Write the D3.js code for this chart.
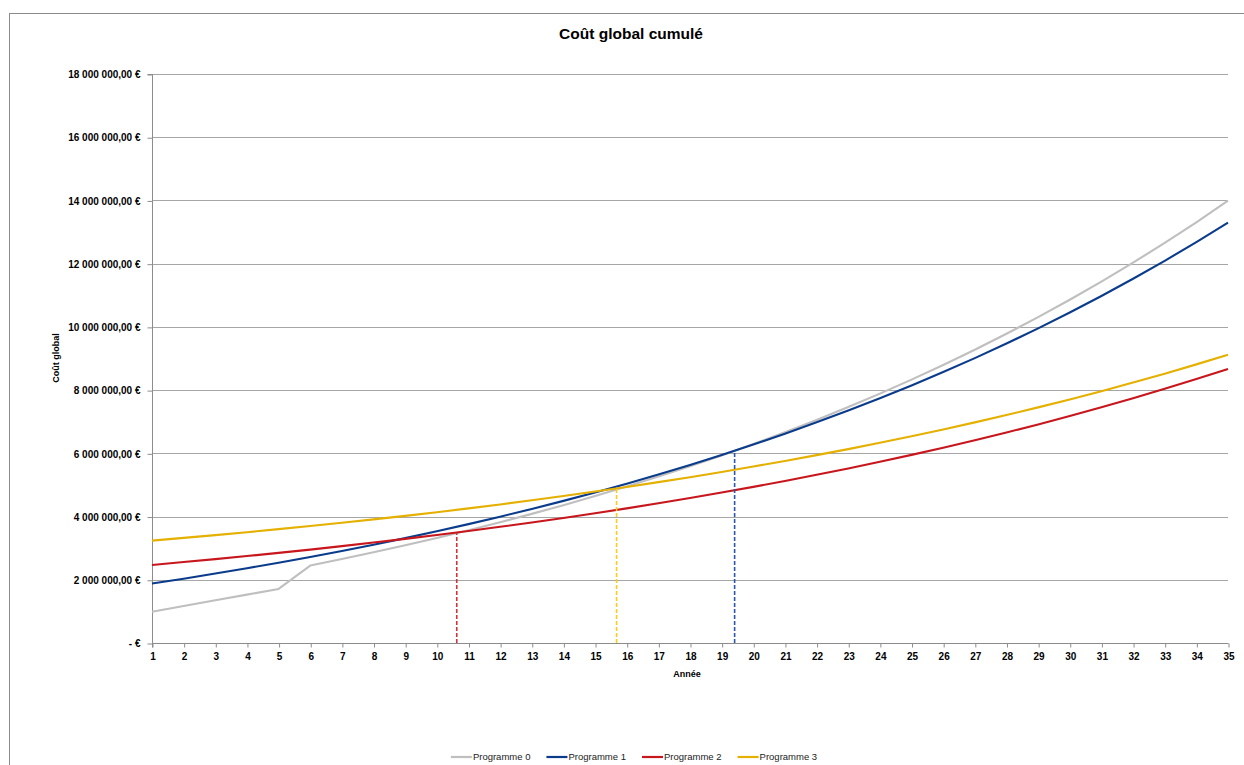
<!DOCTYPE html>
<html>
<head>
<meta charset="utf-8">
<script src="https://cdn.jsdelivr.net/npm/d3@7"></script>
<style>
  html, body { margin: 0; padding: 0; background: #fff; }
  svg { display: block; }
</style>
</head>
<body>
<svg id="chart" width="1244" height="765"></svg>
<script>
// ---------------- DATA ----------------
const years = d3.range(1, 36); // 1..35 (category labels)

const seriesNames = ["Programme 0", "Programme 1", "Programme 2", "Programme 3"];

const programme0 = [990000,1170000,1350000,1530000,1710000,2450000,2655000,2868000,3091000,3323000,3566000,3820000,4085000,4361000,4649000,4950000,5265000,5593000,5935000,6293000,6666000,7056000,7463000,7888000,8331000,8794000,9277000,9782000,10309000,10858000,11432000,12031000,12657000,13310000,13992000];
const programme1 = [1880000,2034000,2196000,2364000,2539000,2722000,2912000,3111000,3318000,3535000,3760000,3995000,4241000,4496000,4763000,5041000,5331000,5634000,5949000,6279000,6622000,6980000,7353000,7742000,8148000,8571000,9013000,9473000,9954000,10455000,10977000,11522000,12090000,12682000,13300000];
const programme2 = [2470000,2560000,2653000,2750000,2851000,2955000,3064000,3177000,3295000,3417000,3544000,3676000,3814000,3956000,4105000,4259000,4419000,4586000,4759000,4939000,5126000,5321000,5523000,5733000,5951000,6179000,6415000,6660000,6915000,7180000,7456000,7742000,8040000,8349000,8671000];
const programme3 = [3240000,3325000,3413000,3505000,3601000,3700000,3803000,3911000,4022000,4138000,4258000,4384000,4514000,4649000,4790000,4936000,5088000,5246000,5410000,5581000,5758000,5943000,6134000,6334000,6541000,6756000,6980000,7212000,7454000,7706000,7967000,8238000,8521000,8814000,9119000];

// break-even markers (dashed verticals): year and value where curves meet Programme 0
const breakEvenSeries = [2, 3, 1];
const breakEvenYears  = [10.63, 15.68, 19.41];
const breakEvenValues = [3480000, 4870000, 6090000];

const yTickValues = [0,2000000,4000000,6000000,8000000,10000000,12000000,14000000,16000000,18000000];
const yTickLabels = ["-  €","2 000 000,00 €","4 000 000,00 €","6 000 000,00 €","8 000 000,00 €","10 000 000,00 €","12 000 000,00 €","14 000 000,00 €","16 000 000,00 €","18 000 000,00 €"];

const titleText = "Coût global cumulé";
const xTitle = "Année";
const yTitle = "Coût global";

// ---------------- STYLE ----------------
const colors = ["#BFBFBF", "#0B3C8C", "#C8161D", "#E5B000"];
const dashColors = ["#BFBFBF", "#2B58A6", "#D0343A", "#FFCC1A"];
const fontFamily = "'Liberation Sans', Arial, sans-serif";

const svg = d3.select("#chart");
const plot = { left: 152, right: 1228, top: 74, bottom: 643 };

// frame
svg.append("rect")
  .attr("x", 9.5).attr("y", 13.5)
  .attr("width", 1300).attr("height", 900)
  .attr("fill", "#fff").attr("stroke", "#8C8C8C").attr("stroke-width", 1);

const x = d3.scaleLinear().domain([1, 35]).range([plot.left, plot.right]);
const y = d3.scaleLinear().domain([0, 18000000]).range([plot.bottom, plot.top]);

// gridlines
svg.append("g")
  .selectAll("line")
  .data(yTickValues.filter(v => v > 0))
  .join("line")
  .attr("x1", plot.left).attr("x2", plot.right)
  .attr("y1", d => Math.round(y(d)) + 0.5).attr("y2", d => Math.round(y(d)) + 0.5)
  .attr("stroke", "#A6A6A6").attr("stroke-width", 1);

// y axis
const yAxis = d3.axisLeft(y)
  .tickValues(yTickValues)
  .tickFormat((d, i) => yTickLabels[i])
  .tickSize(5).tickPadding(7);
const gy = svg.append("g").attr("transform", `translate(${plot.left + 0.5},0.5)`).call(yAxis);
gy.select(".domain").attr("stroke", "#8C8C8C").attr("d", `M-5,${plot.top}H0V${plot.bottom + 4}`);
gy.selectAll(".tick line").attr("stroke", "#8C8C8C");
gy.selectAll(".tick text")
  .attr("font-family", fontFamily).attr("font-size", "10px").attr("font-weight", "bold").attr("fill", "#000");

// x axis
const xAxis = d3.axisBottom(x).tickValues(years).tickFormat(d3.format("d")).tickSize(4).tickPadding(5);
const gx = svg.append("g").attr("transform", `translate(0.5,${plot.bottom + 0.5})`).call(xAxis);
gx.select(".domain").attr("stroke", "#8C8C8C").attr("d", `M${plot.left},0H${plot.right}`);
gx.selectAll(".tick line").attr("stroke", "#8C8C8C");
gx.selectAll(".tick text")
  .attr("font-family", fontFamily).attr("font-size", "10px").attr("font-weight", "bold").attr("fill", "#000");

// axis titles
svg.append("text")
  .attr("x", (plot.left + plot.right) / 2 - 3).attr("y", 677)
  .attr("text-anchor", "middle")
  .attr("font-family", fontFamily).attr("font-size", "9px").attr("font-weight", "bold")
  .text(xTitle);

svg.append("text")
  .attr("transform", `translate(59,358) rotate(-90)`)
  .attr("text-anchor", "middle")
  .attr("font-family", fontFamily).attr("font-size", "9px").attr("font-weight", "bold")
  .text(yTitle);

// title
svg.append("text")
  .attr("x", 631).attr("y", 39)
  .attr("text-anchor", "middle")
  .attr("font-family", fontFamily).attr("font-size", "15.5px").attr("font-weight", "bold")
  .text(titleText);

// series lines
const allSeries = [programme0, programme1, programme2, programme3];
const line = d3.line().x((d, i) => x(years[i])).y(d => y(d));

svg.append("g")
  .selectAll("path")
  .data(allSeries)
  .join("path")
  .attr("d", d => line(d))
  .attr("fill", "none")
  .attr("stroke", (d, i) => colors[i])
  .attr("stroke-width", 2.1)
  .attr("stroke-linejoin", "round");

// break-even dashed verticals
svg.append("g")
  .selectAll("line")
  .data(breakEvenYears)
  .join("line")
  .attr("x1", d => x(d)).attr("x2", d => x(d))
  .attr("y1", y(0)).attr("y2", (d, i) => y(breakEvenValues[i]))
  .attr("stroke", (d, i) => dashColors[breakEvenSeries[i]])
  .attr("stroke-width", 1.6)
  .attr("stroke-dasharray", "4,2");

// legend
const legend = svg.append("g");
const items = legend.selectAll("g").data(seriesNames).join("g");
items.append("line")
  .attr("x1", 0).attr("x2", 21).attr("y1", 0).attr("y2", 0)
  .attr("stroke", (d, i) => colors[i]).attr("stroke-width", 2.2);
items.append("text")
  .attr("x", 22).attr("y", 3.3)
  .attr("font-family", fontFamily).attr("font-size", "9.5px").attr("fill", "#222")
  .text(d => d);
let offs = [], cur = 0;
items.each(function(d, i) {
  const tw = this.querySelector("text").getComputedTextLength();
  offs.push(cur);
  cur += 22 + tw + (i < seriesNames.length - 1 ? 16 : 0);
});
const legendStart = 634 - cur / 2;
items.attr("transform", (d, i) => `translate(${legendStart + offs[i]},757)`);
</script>
</body>
</html>
